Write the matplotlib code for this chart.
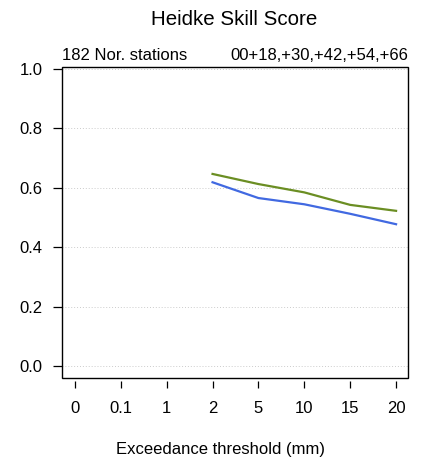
import matplotlib
matplotlib.use("Agg")
import matplotlib.pyplot as plt
from matplotlib.patches import Rectangle

plt.rcParams["font.family"] = ["Liberation Sans", "DejaVu Sans"]

# thresholds (categorical x axis)
thresholds = ["0", "0.1", "1", "2", "5", "10", "15", "20"]
# scores only exist from the 2 mm threshold upward
green_x = ["2", "5", "10", "15", "20"]
green_hss = [0.646, 0.612, 0.584, 0.542, 0.522]
blue_x = ["2", "5", "10", "15", "20"]
blue_hss = [0.618, 0.565, 0.544, 0.512, 0.477]
yticks = [0.0, 0.2, 0.4, 0.6, 0.8, 1.0]

fig = plt.figure(figsize=(4.25, 4.61), dpi=100)
ax = fig.add_axes([0.146, 0.18, 0.814, 0.675])

pos = {t: i for i, t in enumerate(thresholds)}
ax.plot([pos[t] for t in green_x], green_hss, color="#6b8e23", lw=1.6)
ax.plot([pos[t] for t in blue_x], blue_hss, color="#4169e1", lw=1.6)

ax.set_xlim(-0.28, 7.26)
ax.set_ylim(-0.04, 1.006)

for y in yticks:
    ax.axhline(y, color="#cccccc", lw=0.7, ls=(0, (1, 2)), zorder=0)

ax.set_yticks(yticks)
ax.set_yticklabels([f"{y:.1f}" for y in yticks])
ax.set_xticks(range(len(thresholds)))
ax.set_xticklabels(thresholds)

for s in ax.spines.values():
    s.set_visible(False)
ax.spines["bottom"].set_position(("outward", 2.2))
ax.add_patch(Rectangle((0, 0), 1, 1, transform=ax.transAxes, fill=False,
                       lw=1.0, color="black", clip_on=False))

ax.tick_params(axis="y", length=6.5, width=0.9, pad=7.5, labelsize=12)
ax.tick_params(axis="x", length=5.2, width=0.9, pad=9, labelsize=12)

fig.text(0.52, 1 - 449 / 461, "Exceedance threshold (mm)", ha="center",
         va="center", fontsize=12)
fig.text(0.55, 0.958, "Heidke Skill Score", ha="center", va="center", fontsize=14.8)
ax.text(0.0, 1.012, "182 Nor. stations", transform=ax.transAxes,
        ha="left", va="bottom", fontsize=12)
ax.text(1.0, 1.012, "00+18,+30,+42,+54,+66", transform=ax.transAxes,
        ha="right", va="bottom", fontsize=12)

fig.savefig("out.png", dpi=100)
